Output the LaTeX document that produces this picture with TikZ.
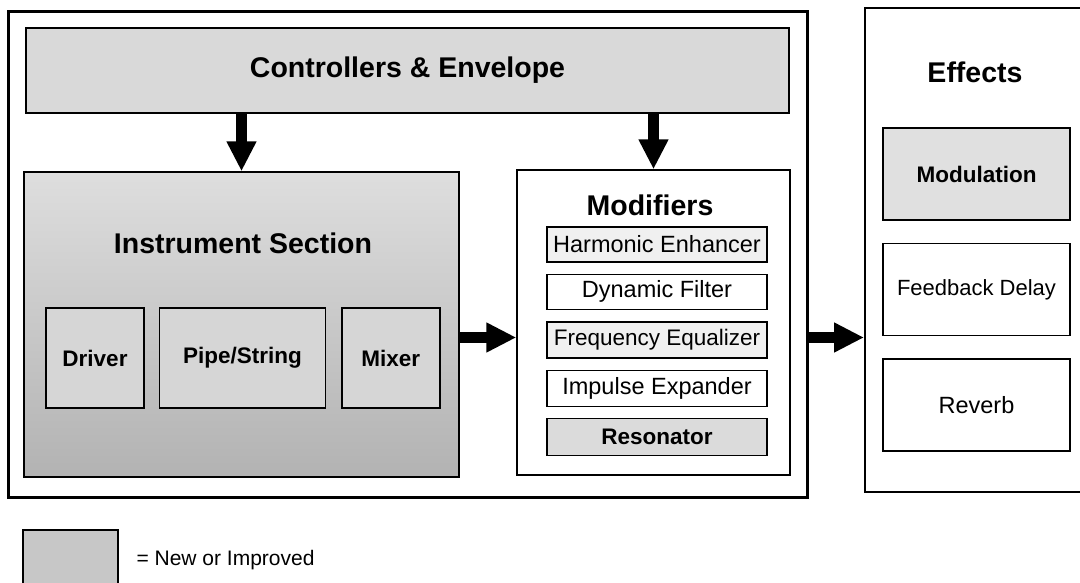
\documentclass[tikz,border=0pt]{standalone}
\usepackage{fontspec}
\setmainfont{Liberation Sans}
\usetikzlibrary{
    arrows.meta,
    positioning
}

\begin{document}
\begin{tikzpicture}[x=1pt, y=1pt,
    box/.style={draw, line width=1.4pt, inner sep=0pt, align=center},
    title/.style={font=\fontsize{28.5}{31}\selectfont\bfseries},
    label/.style={font=\fontsize{23.5}{26}\selectfont},
    blabel/.style={font=\fontsize{22.5}{25}\selectfont\bfseries},
    bigarrow/.style={line width=11pt, -{Triangle[length=30pt, width=28pt]}}]
    \useasboundingbox (0,0) rectangle (1080,-583);
    \clip (0,0) rectangle (1080,-583);
    % outer frame and effects frame
    \node (outer) [box, line width=3pt, minimum width=799pt, minimum height=485pt] at (407.5,-254.5) {};
    \node (fx) [box, line width=2pt, minimum width=235pt, minimum height=484pt] at (982.5,-250) {};
    \node (fxtitle) [title] at (975,-72) {Effects};
    % controllers
    \node (ctrl) [box, fill=black!15, minimum width=763pt, minimum height=85pt, title] at (407.5,-70.5) {Controllers \& Envelope};
    % instrument section
    \node (inst) [box, top color=black!13, bottom color=black!30, minimum width=435pt, minimum height=305pt] at (241.5,-324.5) {};
    \node (insttitle) [title] at (243,-243) {Instrument Section};
    \node (driver) [box, fill=black!16, minimum width=98pt, minimum height=100pt, blabel] at (95,-358) {Driver};
    \node (pipe) [box, fill=black!16, minimum width=166pt, minimum height=100pt, blabel, right=14pt of driver] {Pipe/String};
    \node (mixer) [box, fill=black!16, minimum width=98pt, minimum height=100pt, blabel, right=15pt of pipe] {Mixer};
    % modifiers
    \node (mod) [box, minimum width=273pt, minimum height=305pt] at (653.5,-322.5) {};
    \node (modtitle) [title] at (650,-205) {Modifiers};
    \node (harm) [box, fill=black!6, minimum width=220pt, minimum height=35pt, label] at (657,-244.5) {Harmonic Enhancer};
    \node (dyn) [box, minimum width=220pt, minimum height=35pt, label, below=11pt of harm] {Dynamic Filter};
    \node (freq) [box, fill=black!6, minimum width=220pt, minimum height=36pt, font=\fontsize{22.5}{25}\selectfont, below=11pt of dyn] {Frequency Equalizer};
    \node (imp) [box, minimum width=220pt, minimum height=36pt, label, below=11pt of freq] {Impulse Expander};
    \node (reso) [box, fill=black!14, minimum width=220pt, minimum height=37pt, blabel, below=11pt of imp] {Resonator};
    % effects
    \node (modu) [box, fill=black!12, minimum width=187pt, minimum height=92pt, blabel] at (976.5,-174) {Modulation};
    \node (fbd) [box, minimum width=187pt, minimum height=92pt, font=\fontsize{22}{25}\selectfont, below=22pt of modu] {Feedback Delay};
    \node (rev) [box, minimum width=187pt, minimum height=92pt, label, below=22pt of fbd] {Reverb};
    % legend
    \node (legend) [box, fill=black!22, minimum width=95pt, minimum height=60pt] at (70.5,-560) {};
    \node (legtext) [anchor=west, font=\fontsize{21}{24}\selectfont] at (133,-560) {= New or Improved};
    % arrows
    \coordinate (flow) at ([yshift=-13pt]inst.east);
    \draw[bigarrow] (ctrl.south -| inst.north) -- (inst.north);
    \draw[bigarrow] (ctrl.south -| mod.north) -- (mod.north);
    \draw[bigarrow] (flow) -- (flow -| mod.west);
    \draw[bigarrow] (flow -| outer.east) -- (flow -| fx.west);
\end{tikzpicture}
\end{document}
